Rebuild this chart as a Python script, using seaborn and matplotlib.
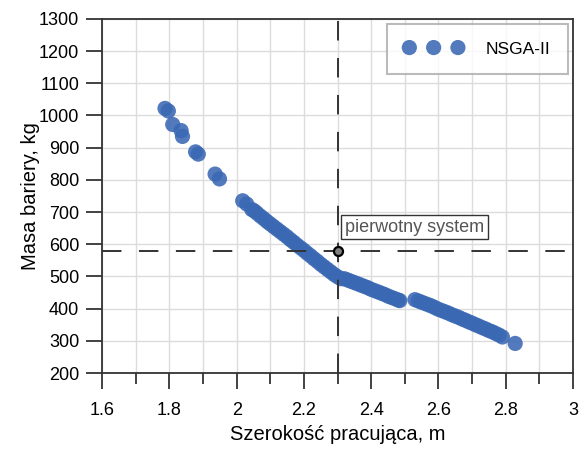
import seaborn as sns
import matplotlib.pyplot as plt
import pandas as pd
from matplotlib.ticker import MultipleLocator

## Front Pareto - NSGA-II, szerokosc vs masa bariery

width_m = [1.787, 1.797, 1.81, 1.835, 1.839, 1.878, 1.886, 1.936, 1.949,
           2.018, 2.03, 2.045, 2.052,
           2.06, 2.07, 2.08, 2.09, 2.10, 2.11, 2.12, 2.13, 2.14, 2.15, 2.16, 2.17,
           2.18, 2.19, 2.20, 2.21, 2.22, 2.23, 2.24, 2.25, 2.26, 2.27, 2.28, 2.29,
           2.30, 2.31,
           2.32, 2.33, 2.34, 2.35, 2.36, 2.37, 2.38, 2.39, 2.40, 2.41, 2.42, 2.43,
           2.44, 2.45, 2.46, 2.47, 2.48, 2.485,
           2.53, 2.54, 2.55, 2.56, 2.57, 2.58, 2.59, 2.60, 2.61, 2.62, 2.63, 2.64,
           2.65, 2.66, 2.67, 2.68, 2.69, 2.70, 2.71, 2.72, 2.73, 2.74, 2.75, 2.76,
           2.77, 2.78, 2.79, 2.828]
mass_kg = [1022, 1014, 972, 953, 935, 887, 880, 818, 803,
           735, 725, 708, 704,
           697, 688, 680, 671, 663, 655, 647, 639, 631, 623, 614, 606,
           597, 589, 581, 572, 564, 555, 547, 538, 530, 522, 514, 506,
           499, 493,
           493, 489, 485, 481, 477, 473, 469, 465, 460, 456, 452, 448,
           444, 439, 435, 431, 427, 425,
           428, 424, 420, 416, 412, 408, 403, 398, 394, 390, 386, 381,
           377, 373, 368, 364, 359, 355, 350, 346, 341, 337, 332, 328,
           323, 318, 312, 292]

orig_width = 2.3
orig_mass = 580

df = pd.DataFrame({'szerokosc': width_m, 'masa': mass_kg})

plt.rcParams['font.family'] = ['Liberation Sans', 'DejaVu Sans']
fig = plt.figure(figsize=(5.8, 4.5), dpi=100)
ax = fig.add_axes([0.176, 0.171, 0.812, 0.787])

sns.scatterplot(x='szerokosc', y='masa', data=df, ax=ax, color='#3a68b3',
                s=120, alpha=0.88, edgecolor='none', label='NSGA-II', zorder=3)

ax.axhline(orig_mass, color='#333333', lw=1.4, dashes=(10, 9), zorder=4)
ax.axvline(orig_width, color='#333333', lw=1.4, dashes=(10, 9), zorder=4)
ax.plot([orig_width], [orig_mass], marker='o', ms=6.5, mfc='#808080', mec='black',
        mew=1.6, zorder=5)
ax.text(orig_width + 0.022, 653, 'pierwotny system', fontsize=13, color='#555555',
        va='center', ha='left', zorder=6,
        bbox=dict(boxstyle='square,pad=0.2', fc='white', ec='#333333', lw=1))

ax.set_xlim(1.6, 3.0)
ax.set_ylim(200, 1300)
ax.xaxis.set_minor_locator(MultipleLocator(0.1))
ax.yaxis.set_major_locator(MultipleLocator(100))
ax.set_xticks([1.6, 1.8, 2.0, 2.2, 2.4, 2.6, 2.8, 3.0])
ax.set_xticklabels(['1.6', '1.8', '2', '2.2', '2.4', '2.6', '2.8', '3'])

ax.grid(which='both', axis='x', color='#dcdcdc', lw=1, zorder=0)
ax.grid(which='major', axis='y', color='#dcdcdc', lw=1, zorder=0)
ax.set_axisbelow(True)
ax.tick_params(which='major', direction='out', length=11.5, width=1.2, labelsize=13,
               color='#222222')
ax.tick_params(axis='x', which='major', pad=9)
ax.tick_params(axis='y', which='major', pad=5)
ax.tick_params(which='minor', direction='out', length=8, width=1.2, color='#222222')
for sp in ax.spines.values():
    sp.set_color('#333333')
    sp.set_linewidth(1.3)

ax.set_xlabel('Szerokość pracująca, m', fontsize=14.5, labelpad=5)
ax.set_ylabel('Masa bariery, kg', fontsize=14.5, labelpad=-1)

leg = ax.legend(loc='upper right', scatterpoints=3, scatteryoffsets=[0.5],
                fontsize=12.5, frameon=True, fancybox=False, edgecolor='#aaaaaa',
                borderpad=1.0, handlelength=3.4, handletextpad=1.3,
                markerscale=1.0, borderaxespad=0.3, bbox_to_anchor=(1.0, 1.0))
leg.get_frame().set_linewidth(1.5)

fig.savefig('out.png', dpi=100)
